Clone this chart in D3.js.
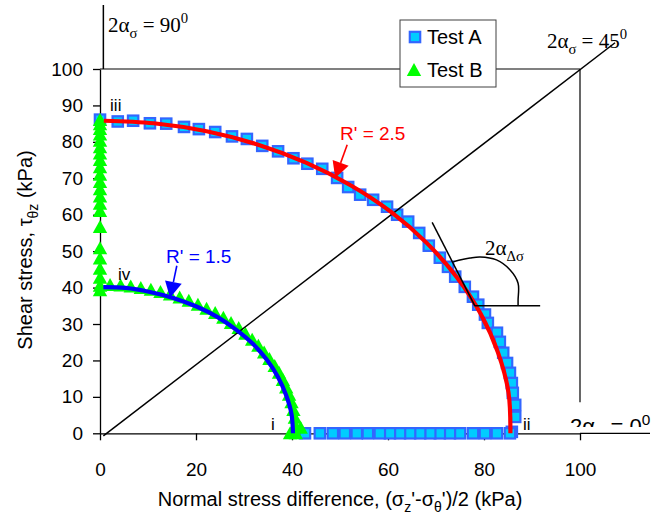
<!DOCTYPE html>
<html>
<head>
<meta charset="utf-8">
<script src="https://cdn.jsdelivr.net/npm/d3@7"></script>
<style>
  body { margin: 0; background: #fff; }
  svg { font-family: Arial, "Liberation Sans", sans-serif; }
  .serif { font-family: "Times New Roman", "Liberation Serif", serif; }
</style>
</head>
<body>
<script>
var width = 659;
var height = 515;

// tick values
var xTicks = [0, 20, 40, 60, 80, 100];
var yTicks = [0, 10, 20, 30, 40, 50, 60, 70, 80, 90, 100];

// Test A (squares)
var testA = [
  [0, 86.1], [3.7, 85.6], [6.9, 85.8], [10.4, 85.1], [13.8, 85.0], [17.5, 84.1],
  [20.6, 83.5], [24.0, 82.7], [27.5, 81.5], [30.6, 80.8], [33.8, 78.9], [37.1, 77.4],
  [40.3, 75.5], [43.2, 74.0], [46.3, 72.6], [49.4, 70.1], [51.7, 67.6], [54.2, 65.5],
  [56.9, 64.1], [59.8, 62.2], [61.9, 60.0], [64.2, 58.1], [66.5, 55.0], [68.5, 51.5],
  [70.8, 48.2], [72.5, 45.7], [74.0, 43.0], [76.0, 40.2], [77.7, 37.5], [78.8, 35.3],
  [80.2, 32.6], [80.8, 30.3], [82.7, 27.6], [83.3, 25.1], [84.0, 22.1], [84.8, 19.3],
  [85.4, 16.6], [85.8, 13.8], [86.0, 11.1], [86.5, 7.8], [86.5, 4.5], [85.8, 0.4],
  [85.4, 0], [82.7, 0], [80.2, 0], [77.7, 0], [75.0, 0], [72.9, 0], [70.8, 0],
  [68.8, 0], [66.7, 0], [64.6, 0], [62.5, 0], [60.4, 0], [58.3, 0], [55.8, 0],
  [53.5, 0], [51.0, 0], [48.5, 0], [45.8, 0], [42.7, 0]
];

// Test B (triangles)
var testB = [
  [0, 86.0], [0, 84.8], [0, 83.5], [0, 82.0], [0, 80.3], [0, 78.5], [0, 76.8],
  [0, 75.0], [0, 73.0], [0, 71.0], [0, 69.0], [0, 67.0], [0, 65.0], [0, 63.0],
  [0, 61.0], [0, 56.6], [0, 50.8], [0, 48.0], [0, 45.2], [0, 42.7], [0, 40.5], [0, 39.3],
  [2.1, 40.7], [4.3, 40.6], [6.4, 40.3], [8.5, 39.9], [10.6, 39.4], [12.6, 38.8],
  [14.6, 38.1], [16.6, 37.3], [18.5, 36.4], [20.4, 35.3], [22.2, 34.2], [24.0, 33.0],
  [25.7, 31.7], [27.3, 30.3], [28.9, 28.9], [30.3, 27.3], [31.7, 25.7], [33.0, 24.0],
  [34.2, 22.2], [35.3, 20.4], [36.4, 18.5], [37.3, 16.6], [38.1, 14.6], [38.8, 12.6],
  [39.4, 10.6], [39.9, 8.5], [40.3, 6.4], [40.6, 4.3], [40.7, 2.1], [40.8, 0],
  [39.6, 0], [41.8, 1.5]
];

// fitted curves
var fitA = [
  [0.8, 85.8], [11.2, 85.1], [22.2, 82.9], [32.8, 79.3], [42.9, 74.3], [52.2, 68.1],
  [60.7, 60.7], [68.1, 52.2], [74.3, 42.9], [79.3, 32.8], [82.9, 22.2], [85.1, 11.2], [85.5, 0]
];
var fitB = [
  [0.7, 40.1], [5.3, 39.9], [10.4, 38.8], [15.4, 37.1], [20.1, 34.8], [24.5, 31.9],
  [28.4, 28.4], [31.9, 24.5], [34.8, 20.1], [37.1, 15.4], [38.8, 10.4], [39.9, 5.3], [40.2, 0]
];

// annotation geometry (data units)
var diagonal = [[0.7, -0.7], [107.3, 107.2]];
var tangent = [[69.2, 57.9], [78.1, 35.0]];
var horizontal = [[78.1, 35.0], [91.7, 35.0]];
var angleArc = [[73.6, 47.1], [77.1, 48.1], [79.2, 48.4], [82.6, 47.6], [85.4, 44.9],
  [87.1, 41.2], [87.1, 36.6], [87.1, 35.0]];

var svg = d3.select("body").append("svg")
  .attr("width", width)
  .attr("height", height);

var x = d3.scaleLinear().domain([0, 100]).range([100, 580]);
var y = d3.scaleLinear().domain([0, 100]).range([433.3, 69]);

var line = d3.line().x(function(d) { return x(d[0]); }).y(function(d) { return y(d[1]); });
var smooth = d3.line().curve(d3.curveCatmullRom).x(function(d) { return x(d[0]); }).y(function(d) { return y(d[1]); });

// helper for sub/superscripts
function richText(sel, parts, size) {
  var shift = 0;
  parts.forEach(function(p) {
    var target = p[1] === "sub" ? size * 0.3 : (p[1] === "sup" ? -size * 0.42 : 0);
    var t = sel.append("tspan").text(p[0]).attr("dy", target - shift);
    if (p[1]) t.style("font-size", (size * 0.7) + "px");
    shift = target;
  });
}

// top border of plot area
svg.append("line")
  .attr("x1", x(0)).attr("x2", x(100))
  .attr("y1", y(100)).attr("y2", y(100))
  .attr("stroke", "#808080").attr("stroke-width", 2);

// 90 deg line above the axis
svg.append("line")
  .attr("x1", x(0.7)).attr("x2", x(0.7))
  .attr("y1", 5).attr("y2", y(100))
  .attr("stroke", "#000").attr("stroke-width", 1.5);

// 0 deg vertical line at x=100
svg.append("line")
  .attr("x1", x(100)).attr("x2", x(100))
  .attr("y1", y(100)).attr("y2", y(8.5))
  .attr("stroke", "#000").attr("stroke-width", 1.2);

// axes
var yAxis = svg.append("g")
  .attr("transform", "translate(" + x(0) + ",0)")
  .call(d3.axisLeft(y).tickValues(yTicks).tickSize(7).tickSizeOuter(0).tickPadding(10));
var xAxis = svg.append("g")
  .attr("transform", "translate(0," + y(0) + ")")
  .call(d3.axisBottom(x).tickValues(xTicks).tickSize(7).tickSizeOuter(0).tickPadding(22));
[xAxis, yAxis].forEach(function(a) {
  a.selectAll("path, line").attr("stroke", "#000").attr("stroke-width", 1.3);
  a.selectAll("text").attr("fill", "#000").style("font-size", "19px").style("font-family", "Arial, 'Liberation Sans', sans-serif");
});
svg.append("line")
  .attr("x1", x(100)).attr("x2", 650)
  .attr("y1", y(0)).attr("y2", y(0))
  .attr("stroke", "#000").attr("stroke-width", 1.3);

// Test A squares
var sq = 10.4;
svg.append("g").selectAll("rect")
  .data(testA)
  .enter().append("rect")
  .attr("x", function(d) { return x(d[0]) - sq / 2; })
  .attr("y", function(d) { return y(d[1]) - sq / 2; })
  .attr("width", sq).attr("height", sq)
  .attr("fill", "#00ccff")
  .attr("stroke", "#3366ff")
  .attr("stroke-width", 2.2);

// Test B triangles
var tri = "M0,-7L7.2,6L-7.2,6Z";
svg.append("g").selectAll("path")
  .data(testB)
  .enter().append("path")
  .attr("d", tri)
  .attr("transform", function(d) { return "translate(" + x(d[0]) + "," + y(d[1]) + ")"; })
  .attr("fill", "#00ff00");

// 45 deg line
svg.append("path").datum(diagonal).attr("d", line)
  .attr("stroke", "#000").attr("stroke-width", 1.5).attr("fill", "none");

// fitted curves
svg.append("path").datum(fitA).attr("d", smooth)
  .attr("stroke", "#ff0000").attr("stroke-width", 4.2).attr("fill", "none");
svg.append("path").datum(fitB).attr("d", smooth)
  .attr("stroke", "#0000ff").attr("stroke-width", 4.2).attr("fill", "none");

// tangent + angle
svg.append("path").datum(tangent).attr("d", line)
  .attr("stroke", "#000").attr("stroke-width", 1.5).attr("fill", "none");
svg.append("path").datum(horizontal).attr("d", line)
  .attr("stroke", "#000").attr("stroke-width", 1.5).attr("fill", "none");
svg.append("path").datum(angleArc).attr("d", smooth)
  .attr("stroke", "#000").attr("stroke-width", 1.5).attr("fill", "none");

// arrows
function arrow(from, tip, color) {
  var x0 = x(from[0]), y0 = y(from[1]), x1 = x(tip[0]), y1 = y(tip[1]);
  var ang = Math.atan2(y1 - y0, x1 - x0);
  var len = 16, half = 8.5;
  var bx = x1 - len * Math.cos(ang), by = y1 - len * Math.sin(ang);
  svg.append("line").attr("x1", x0).attr("y1", y0).attr("x2", bx).attr("y2", by)
    .attr("stroke", color).attr("stroke-width", 1.6);
  svg.append("path")
    .attr("d", "M" + x1 + "," + y1 +
      "L" + (bx + half * Math.sin(ang)) + "," + (by - half * Math.cos(ang)) +
      "L" + (bx - half * Math.sin(ang)) + "," + (by + half * Math.cos(ang)) + "Z")
    .attr("fill", color);
}
arrow([51.5, 79.2], [49.0, 70.1], "#ff0000");
arrow([16.0, 46.0], [14.6, 37.2], "#0000ff");

svg.append("text").attr("x", x(50)).attr("y", y(80.6))
  .attr("fill", "#ff0000").style("font-size", "19px").text("R' = 2.5");
svg.append("text").attr("x", x(13.75)).attr("y", y(46.8))
  .attr("fill", "#0000ff").style("font-size", "19px").text("R' = 1.5");

// point labels
var pointLabels = [["iii", 2.1, 88.4], ["iv", 3.75, 42.1], ["i", 35.6, 0.9], ["ii", 88.1, 0.9]];
svg.append("g").selectAll("text")
  .data(pointLabels)
  .enter().append("text")
  .attr("x", function(d) { return x(d[1]); })
  .attr("y", function(d) { return y(d[2]); })
  .style("font-size", "17px")
  .text(function(d) { return d[0]; });

// angle labels
var t90 = svg.append("text").attr("class", "serif")
  .attr("x", x(1.67)).attr("y", y(110.2)).style("font-size", "21px");
richText(t90, [["2α", ""], ["σ", "sub"], [" = 90", ""], ["0", "sup"]], 21);

var t45 = svg.append("text").attr("class", "serif")
  .attr("x", x(93.1)).attr("y", y(105.9)).style("font-size", "21px");
richText(t45, [["2α", ""], ["σ", "sub"], [" = 45", ""], ["0", "sup"]], 21);

var tD = svg.append("text").attr("class", "serif")
  .attr("x", x(80.2)).attr("y", y(48.9)).style("font-size", "21px");
richText(tD, [["2α", ""], ["Δσ", "sub"]], 21);

svg.append("clipPath").attr("id", "clip0")
  .append("rect").attr("x", 560).attr("y", 395).attr("width", 99).attr("height", 32);
var t0 = svg.append("text")
  .attr("clip-path", "url(#clip0)")
  .attr("x", x(97.9)).attr("y", 434).style("font-size", "22px");
richText(t0, [["2α", ""], ["σ", "sub"], [" = 0", ""], ["0", "sup"]], 22);

// axis titles
var xt = svg.append("text")
  .attr("x", 340).attr("y", 506)
  .attr("text-anchor", "middle")
  .style("font-size", "20px");
richText(xt, [["Normal stress difference, (σ", ""], ["z", "sub"], ["'-σ", ""], ["θ", "sub"], ["')/2 (kPa)", ""]], 20);

var yt = svg.append("text")
  .attr("transform", "translate(32,250) rotate(-90)")
  .attr("text-anchor", "middle")
  .style("font-size", "20px");
richText(yt, [["Shear stress, τ", ""], ["θz", "sub"], [" (kPa)", ""]], 20);

// legend
var legend = svg.append("g");
legend.append("rect")
  .attr("x", 400).attr("y", 20).attr("width", 96).attr("height", 67)
  .attr("fill", "#fff").attr("stroke", "#404040").attr("stroke-width", 1);
legend.append("rect")
  .attr("x", 415 - sq / 2).attr("y", 37 - sq / 2).attr("width", sq).attr("height", sq)
  .attr("fill", "#00ccff").attr("stroke", "#3366ff").attr("stroke-width", 2.2);
legend.append("path").attr("d", tri)
  .attr("transform", "translate(414,70)").attr("fill", "#00ff00");
legend.append("text").attr("x", 427).attr("y", 44).style("font-size", "20px").text("Test A");
legend.append("text").attr("x", 427).attr("y", 77).style("font-size", "20px").text("Test B");
</script>
</body>
</html>
